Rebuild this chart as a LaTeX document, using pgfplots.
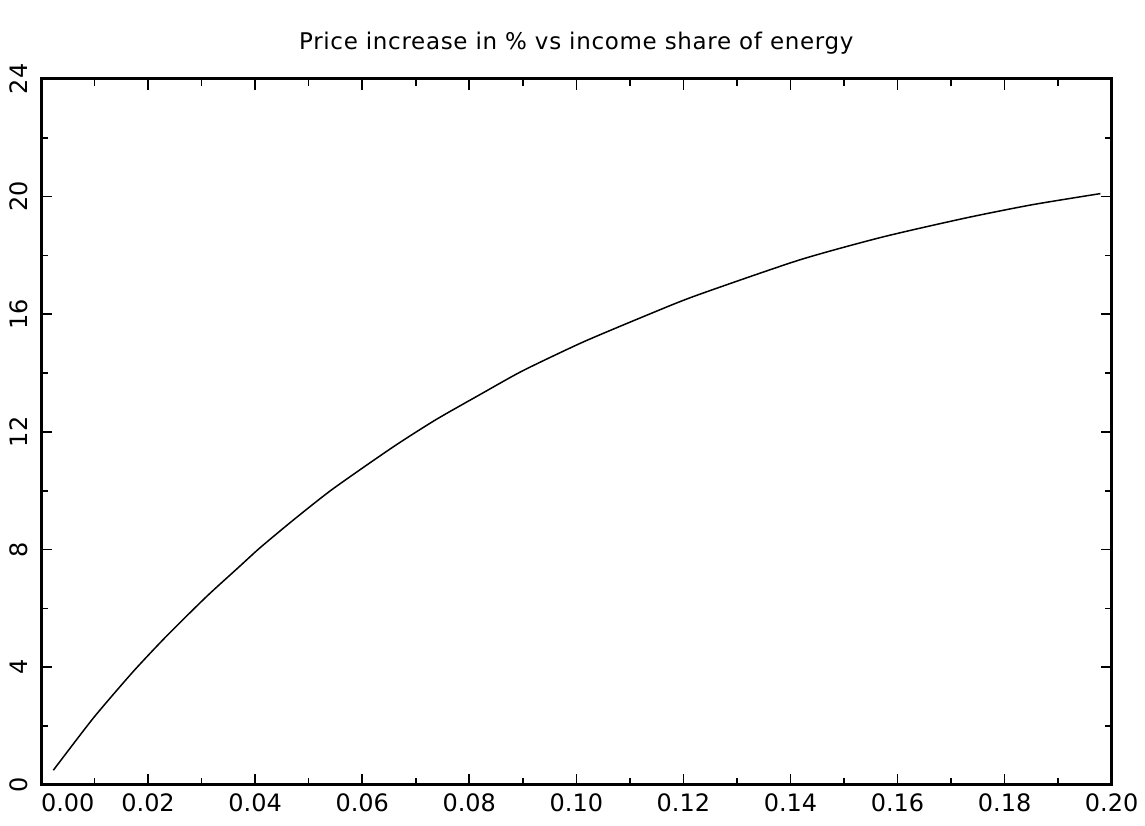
\documentclass[border=0pt]{standalone}
\usepackage{pgfplots}
\pgfplotsset{compat=1.18}
\usepackage{fontspec}
\setmainfont{DejaVu Sans}
\newfontfamily\titlefont{DejaVu Sans}[LetterSpace=3]

\begin{document}
\begin{tikzpicture}
\begin{axis}[
  scale only axis,
  width=536pt, height=353.5pt,
  xmin=0, xmax=0.2,
  ymin=0, ymax=24,
  axis line style={line width=1.5pt},
  tick align=inside,
  major tick length=5.5pt,
  minor tick length=3.5pt,
  every tick/.style={black, line width=0.8pt},
  xtick={0,0.02,...,0.2001},
  minor x tick num=1,
  xticklabels={\makebox[0pt][l]{0.00},0.02,0.04,0.06,0.08,0.10,0.12,0.14,0.16,0.18,0.20},
  ytick={0,4,...,24},
  minor y tick num=1,
  ticklabel style={font=\fontsize{12}{14}\selectfont},
  /pgf/number format/assume math mode=true,
  xticklabel style={yshift=-1pt},
  yticklabel style={xshift=-3pt, rotate=90, anchor=south},
  title={Price increase in \% vs income share of energy},
  title style={font=\titlefont\fontsize{11.5}{14}\selectfont, yshift=3pt},
  clip=false,
]
  % fixed frame around the plot
  \path (rel axis cs:-0.0383,-0.058) rectangle (rel axis cs:1.0299,1.1117);
  \addplot[black, line width=0.75pt, smooth, tension=0.4] coordinates {
    (0.0023, 0.50)
    (0.0098, 2.28)
    (0.0172, 3.85)
    (0.0235, 5.07)
    (0.0309, 6.40)
    (0.0371, 7.43)
    (0.0409, 8.06)
    (0.0471, 9.00)
    (0.0545,10.06)
    (0.0657,11.48)
    (0.0738,12.42)
    (0.0825,13.32)
    (0.0900,14.08)
    (0.1012,15.05)
    (0.1136,16.00)
    (0.1223,16.63)
    (0.1416,17.84)
    (0.1571,18.62)
    (0.1727,19.27)
    (0.1851,19.72)
    (0.1979,20.10)
  };
\end{axis}
\end{tikzpicture}
\end{document}
